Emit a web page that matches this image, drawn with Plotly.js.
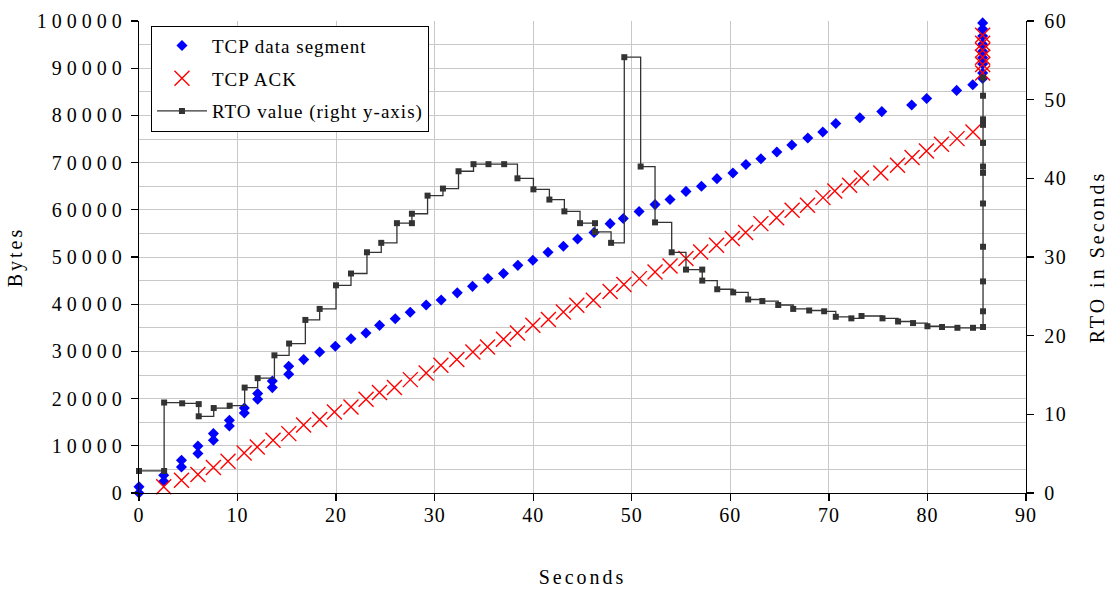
<!DOCTYPE html>
<html>
<head>
<meta charset="utf-8">
<script src="https://cdn.plot.ly/plotly-3.0.1.min.js"></script>
<style>
html,body{margin:0;padding:0;background:#fff;}
#chart{width:1111px;height:589px;}
svg text{letter-spacing:1px;}
#chart g.ytick text{letter-spacing:5px;}
#chart g.y2tick text{letter-spacing:1.5px;}
#chart text.xtitle, #chart text.ytitle, #chart text.y2title{letter-spacing:3px;}
</style>
</head>
<body>
<div id="chart"></div>
<script>
// TCP data segments (time in s, bytes)
const segTime = [0,0,2.51,2.51,4.31,4.31,5.98,5.98,7.55,7.55,9.17,9.17,10.69,10.69,12.04,12.04,13.53,13.53,15.19,15.19,
  16.71,18.33,19.92,21.51,23.03,24.41,26.0,27.52,29.14,30.66,32.29,33.84,35.4,36.98,38.44,39.96,41.5,43.06,44.5,46.17,
  47.8,49.14,50.74,52.36,53.88,55.5,57.07,58.64,60.26,61.58,63.1,64.72,66.24,67.86,69.38,70.7,73.14,75.37,78.4,79.92,
  82.96,84.6,85.6,85.6,85.6,85.6,85.6,85.6,85.6,85.6,85.6];
const segBytes = [0,1300,2500,3750,5510,6930,8350,9960,11160,12580,14200,15400,16950,18010,19850,21060,22330,23730,25150,26840,
  28260,29870,31080,32700,33880,35520,36930,38300,39820,40890,42400,43780,45430,46520,48230,49310,51000,52270,53830,55200,
  57070,58140,59620,61100,62200,63900,65000,66600,67800,69600,70800,72260,73740,75230,76500,78300,79500,80800,82200,83600,
  85300,86500,87800,89000,90900,92200,93600,95100,96800,98300,99600];

// TCP ACKs (time in s, bytes)
const ackTime = [2.51,4.31,5.98,7.55,9.03,10.67,12.0,13.6,15.2,16.7,18.33,19.83,21.51,23.04,24.4,25.92,27.53,29.14,30.63,32.25,
  33.88,35.36,36.98,38.4,39.96,41.54,43.06,44.42,46.1,47.8,49.2,50.77,52.36,53.88,55.5,56.99,58.6,60.2,61.55,63.1,
  64.7,66.27,67.83,69.4,70.6,72.1,73.3,75.27,76.96,78.44,79.9,81.42,83.0,84.62,85.6,85.6,85.6,85.6,85.6,85.6];
const ackBytes = [1300,2690,3900,5380,6720,8470,9750,11160,12580,14400,15550,17160,18220,19850,21270,22330,24020,25420,27050,28260,
  29870,30930,32560,33900,35530,36740,38350,39770,40830,42680,44150,45420,46820,48090,49660,51060,52480,53900,55170,57070,
  58340,59890,60950,62580,63980,65190,66740,67800,69430,71060,72460,73880,75080,76480,89000,90800,92300,93800,95300,97000];

// RTO value (time in s, seconds) - right axis
const rtoTime = [0,2.55,2.55,4.38,6.06,6.06,7.58,9.2,10.72,12.04,13.74,15.23,16.88,18.33,19.99,21.51,23.13,24.58,26.17,27.69,
  27.69,29.28,30.84,32.42,33.94,35.46,37.05,38.4,40.02,41.64,43.16,44.75,46.27,46.27,47.9,49.24,50.9,52.36,54.05,55.5,
  57.15,57.15,58.67,60.29,61.81,63.25,64.86,66.38,68.0,69.52,70.7,72.28,73.31,75.44,77.02,78.54,80.0,81.48,83.04,84.62,
  85.64,85.64,85.64,85.64,85.64,85.64,85.64,85.64,85.64,85.64,85.64,85.64];
const rtoValue = [2.8,2.8,11.5,11.4,11.3,9.75,10.8,11.1,13.4,14.6,17.5,19.0,22.0,23.4,26.4,27.9,30.6,31.8,34.3,34.3,
  35.5,37.8,38.7,40.9,41.8,41.8,41.8,40.0,38.6,37.3,35.8,34.3,34.3,33.2,31.8,55.4,41.5,34.4,30.6,28.4,
  28.4,27.0,25.9,25.5,24.6,24.4,23.9,23.4,23.2,23.1,22.4,22.2,22.5,22.2,21.8,21.6,21.2,21.1,21.0,21.0,
  21.1,23.1,26.9,31.3,36.8,40.7,41.5,44.5,46.8,47.5,50.5,52.8];

const seriesNames = ['TCP data segment','TCP ACK','RTO value (right y-axis)'];
const xTitle = 'Seconds', yTitle = 'Bytes', y2Title = 'RTO in Seconds';

const FONT = 'Liberation Serif, Times New Roman, serif';
const GRID = '#c8c8c8';
const FS = 20;

const traces = [
  {x: segTime, y: segBytes, name: seriesNames[0], type: 'scatter', mode: 'markers', legendgroup: 'a', cliponaxis: false,
   marker: {symbol: 'diamond', size: 8.5, color: '#0000ff'}},
  {x: ackTime, y: ackBytes, name: seriesNames[1], type: 'scatter', mode: 'markers', legendgroup: 'b', cliponaxis: false,
   marker: {symbol: 'x-thin-open', size: 15, color: '#ff0000', line: {color: '#ff0000', width: 1.4}}},
  {x: rtoTime, y: rtoValue, name: seriesNames[2], type: 'scatter', mode: 'lines+markers', yaxis: 'y2', legendgroup: 'c',
   cliponaxis: false,
   line: {shape: 'hv', color: '#333333', width: 1.3},
   marker: {symbol: 'square', size: 6, color: '#333333'}}
];

const layout = {
  width: 1111, height: 589,
  margin: {l: 139, r: 85, t: 21, b: 96, pad: 0},
  paper_bgcolor: '#ffffff', plot_bgcolor: '#ffffff',
  font: {family: FONT, size: FS, color: '#000'},
  showlegend: true,
  legend: {x: 0.0135, y: 0.99, xanchor: 'left', yanchor: 'top', bgcolor: '#ffffff',
           bordercolor: '#000', borderwidth: 1, font: {family: FONT, size: 19, color: '#000'},
           tracegroupgap: 5, itemwidth: 50},
  xaxis: {range: [0, 90], dtick: 10, tick0: 0, showgrid: true, gridcolor: GRID, gridwidth: 1,
          zeroline: false, showline: true, linecolor: '#000', linewidth: 1.3, ticks: 'outside', ticklen: 7,
          tickcolor: '#000', tickwidth: 1.3, ticklabelstandoff: -3, tickfont: {family: FONT, size: FS},
          title: {text: xTitle, standoff: 44, font: {family: FONT, size: FS}}},
  yaxis: {range: [0, 100000], dtick: 10000, tick0: 0, tickformat: 'd', showgrid: true, gridcolor: GRID, gridwidth: 1,
          minor: {dtick: 5000, showgrid: true, gridcolor: GRID, gridwidth: 1, ticks: ''},
          zeroline: false, showline: true, linecolor: '#000', linewidth: 1.3, ticks: 'outside', ticklen: 7,
          tickcolor: '#000', tickwidth: 1.3, ticklabelstandoff: 0, tickfont: {family: FONT, size: FS},
          title: {text: yTitle, standoff: 32, font: {family: FONT, size: FS}}},
  yaxis2: {range: [0, 60], dtick: 10, tick0: 0, overlaying: 'y', side: 'right', showgrid: false,
           zeroline: false, showline: true, linecolor: '#000', linewidth: 1.3, ticks: 'outside', ticklen: 7,
           tickcolor: '#000', tickwidth: 1.3, ticklabelstandoff: 6, tickfont: {family: FONT, size: FS},
           title: {text: y2Title, standoff: 24, font: {family: FONT, size: FS}}}
};

Plotly.newPlot('chart', traces, layout, {displayModeBar: false, staticPlot: true});
</script>
</body>
</html>
